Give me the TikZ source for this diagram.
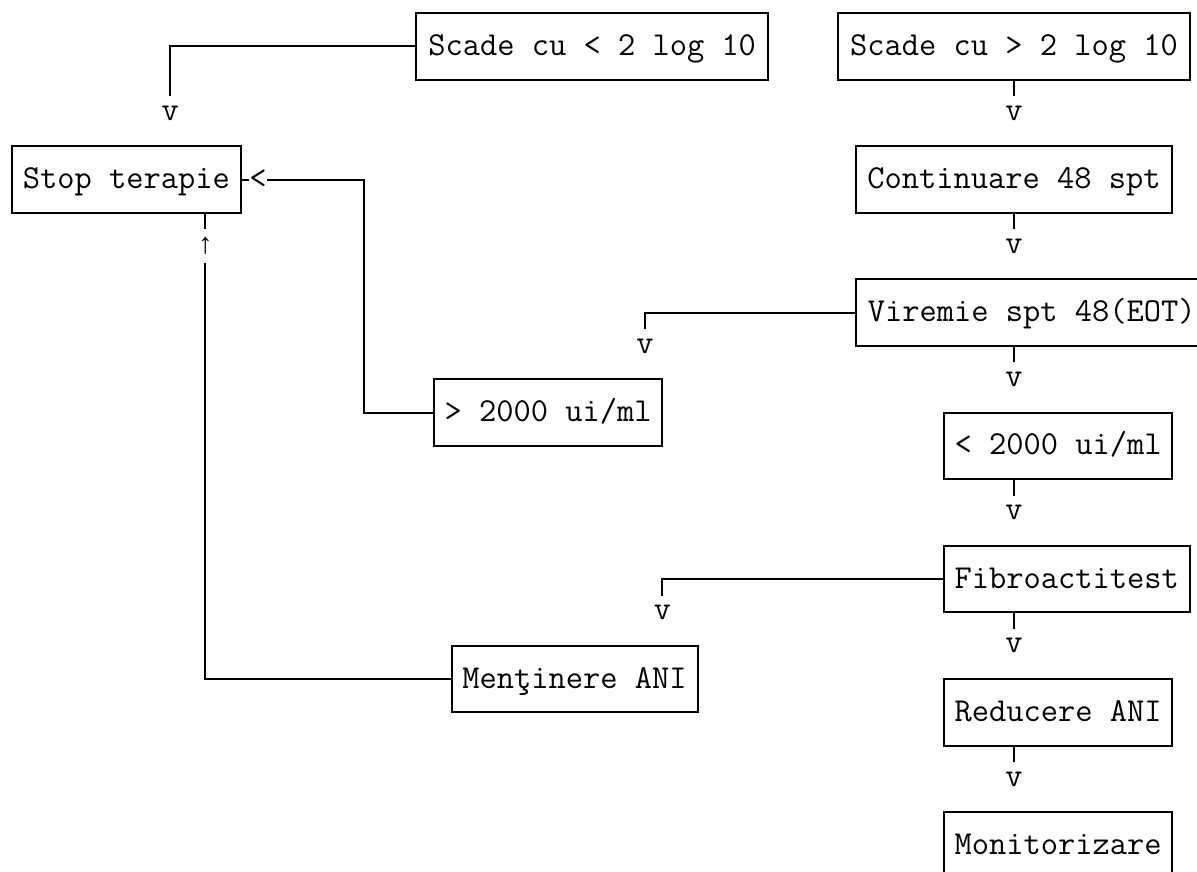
\documentclass[tikz,border=0pt]{standalone}
\usepackage{fontspec}
\newfontfamily\arrowfont{Liberation Mono}
\def\P{17.58}
\def\R{33.3}
\tikzset{
  txt/.style={font=\ttfamily\fontsize{33.49}{33.3}\selectfont, text=black},
  box/.style={txt, draw=black, line width=2pt, inner sep=0pt,
    minimum height={2*\R*1pt}, text height=18pt, text depth=0pt},
  glyph/.style={txt, inner sep=0pt, minimum width={\P*1pt}, minimum height={\R*1pt}},
  wire/.style={draw=black, line width=2pt},
}
\begin{document}
\begin{tikzpicture}[x=1pt,y=-1pt]
\useasboundingbox (0,0) rectangle (1197,872);
% boxes
\node[box, minimum width={20*\P*1pt}] (s1)   at ({12+33*\P},{13+1*\R}) {Scade cu < 2 log 10};
\node[box, minimum width={20*\P*1pt}] (s2)   at ({12+57*\P},{13+1*\R}) {Scade cu > 2 log 10};
\node[box, minimum width={13*\P*1pt}] (stop) at ({12+6.5*\P},{13+5*\R}) {Stop terapie};
\node[box, minimum width={18*\P*1pt}] (cont) at ({12+57*\P},{13+5*\R}) {Continuare 48 spt};
\node[box, minimum width={20*\P*1pt}] (vir)  at ({12+58*\P},{13+9*\R}) {Viremie spt 48(EOT)};
\node[box, minimum width={13*\P*1pt}] (gt)   at ({12+30.5*\P},{13+12*\R}) {> 2000 ui/ml};
\node[box, minimum width={13*\P*1pt}] (lt)   at ({12+59.5*\P},{13+13*\R}) {< 2000 ui/ml};
\node[box, minimum width={14*\P*1pt}] (fib)  at ({12+60*\P},{13+17*\R}) {Fibroactitest};
\node[box, minimum width={14*\P*1pt}] (men)  at ({12+32*\P},{13+20*\R}) {Menţinere ANI};
\node[box, minimum width={13*\P*1pt}] (red)  at ({12+59.5*\P},{13+21*\R}) {Reducere ANI};
\node[box, minimum width={13*\P*1pt}] (mon)  at ({12+59.5*\P},{13+25*\R}) {Monitorizare};
% glyphs
\node[glyph] (va) at ({12+9*\P},{13+3*\R}) {v};
\node[glyph] (vb) at ({12+57*\P},{13+3*\R}) {v};
\node[glyph] (vc) at ({12+57*\P},{13+7*\R}) {v};
\node[glyph] (vd) at ({12+36*\P},{13+10*\R}) {v};
\node[glyph] (ve) at ({12+57*\P},{13+11*\R}) {v};
\node[glyph] (vf) at ({12+57*\P},{13+15*\R}) {v};
\node[glyph] (vg) at ({12+37*\P},{13+18*\R}) {v};
\node[glyph] (vh) at ({12+57*\P},{13+19*\R}) {v};
\node[glyph] (vi) at ({12+57*\P},{13+23*\R}) {v};
\node[glyph] (arr) at ({12+14*\P},{13+5*\R}) {<};
\node[glyph, font=\arrowfont\fontsize{29.3}{33.3}\selectfont] (up) at ({12+11*\P},{13+7*\R}) {↑};
\coordinate (k1) at ({12+20*\P},{13+5*\R});
% connectors
\draw[wire] (s1.west) -| (va.north);
\draw[wire] (s2.south) -- (vb.north);
\draw[wire] (cont.south) -- (vc.north);
\draw[wire] (vir.west) -| (vd.north);
\draw[wire] (vir.south -| ve) -- (ve.north);
\draw[wire] (lt.south -| vf) -- (vf.north);
\draw[wire] (fib.west) -| (vg.north);
\draw[wire] (fib.south -| vh) -- (vh.north);
\draw[wire] (red.south -| vi) -- (vi.north);
\draw[wire] (gt.west) -| (k1) -- (arr.east);
\draw[wire] (stop.east) -- (arr.west);
\draw[wire] (stop.south -| up) -- (up.north);
\draw[wire] (up.south) |- (men.west);
\end{tikzpicture}
\end{document}
